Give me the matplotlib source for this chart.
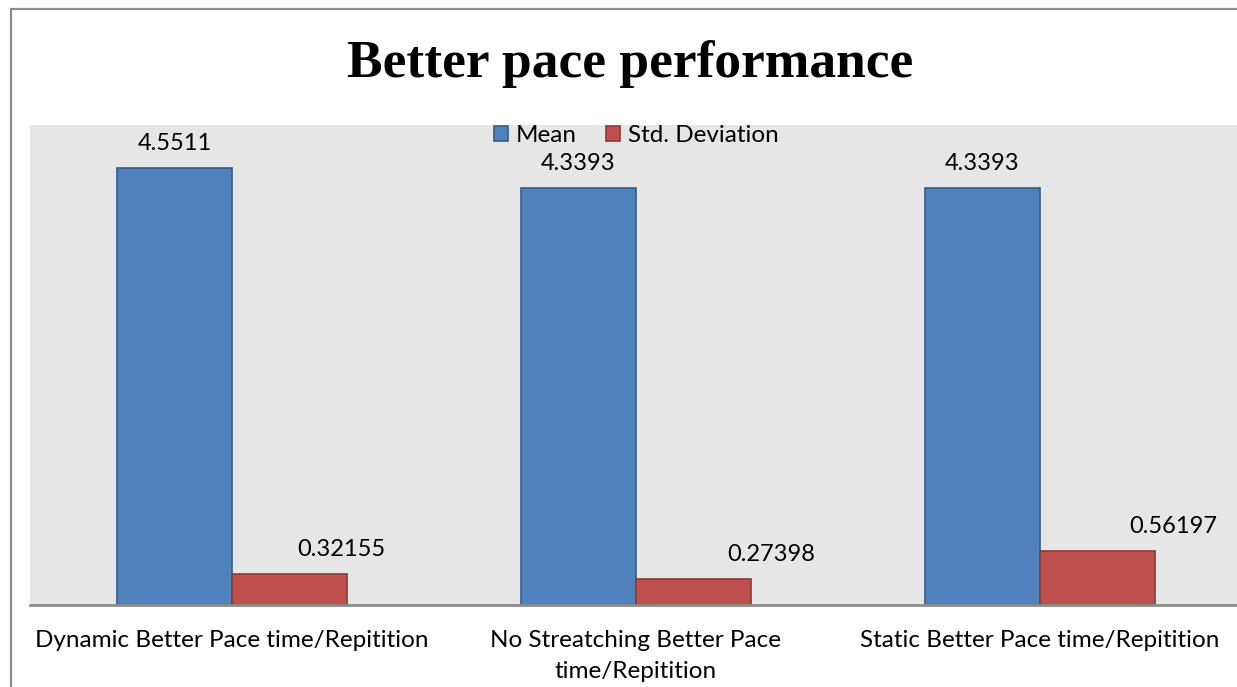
import matplotlib.pyplot as plt
import numpy as np
from matplotlib.patches import Rectangle

categories = [
    "Dynamic Better Pace time/Repitition",
    "No Streatching Better Pace\ntime/Repitition",
    "Static Better Pace time/Repitition",
]
mean_values = [4.5511, 4.3393, 4.3393]
std_values = [0.32155, 0.27398, 0.56197]
series_names = ["Mean", "Std. Deviation"]

# label nudges in pixels (x), as placed in the source chart
std_label_dx = [52, 78, 76]

fig = plt.figure(figsize=(12.37, 6.87), dpi=100)
plt.rcParams["font.family"] = ["Lato", "DejaVu Sans"]

# outer frame of the chart area (cut at right/bottom in the original)
fig.patches.append(Rectangle((11 / 1237, -0.1), 1.2, (687 - 9) / 687 + 0.1,
                             transform=fig.transFigure, fill=False,
                             edgecolor="#8c8c8c", linewidth=1.6))

ax = fig.add_axes([30 / 1237, (687 - 605) / 687, 1212 / 1237, 480 / 687])
ax.set_facecolor("#e6e6e6")

x = np.arange(len(categories))
w = 0.285
b1 = ax.bar(x - w / 2, mean_values, w, color="#4f81bd", edgecolor="#385d8a",
            linewidth=1.2, label=series_names[0])
b2 = ax.bar(x + w / 2, std_values, w, color="#c0504d", edgecolor="#8c3836",
            linewidth=1.2, label=series_names[1])

for rect, v in zip(b1, mean_values):
    ax.annotate(f"{v:g}", (rect.get_x() + rect.get_width() / 2, v),
                xytext=(0, 14), textcoords="offset pixels",
                ha="center", va="bottom", fontsize=17)
for rect, v, dx in zip(b2, std_values, std_label_dx):
    ax.annotate(f"{v:g}", (rect.get_x() + rect.get_width() / 2, v),
                xytext=(dx, 14), textcoords="offset pixels",
                ha="center", va="bottom", fontsize=17)

ax.set_xlim(-0.5, len(categories) - 0.5)
ax.set_ylim(0, 5)
ax.set_yticks([])
ax.set_xticks(x)
ax.set_xticklabels(categories, fontsize=17.5, linespacing=1.6)
ax.tick_params(axis="x", length=0, pad=18)
for side in ["top", "right", "left"]:
    ax.spines[side].set_visible(False)
ax.spines["bottom"].set_color("#8c8c8c")
ax.spines["bottom"].set_linewidth(2)

leg = ax.legend(loc="upper center", bbox_to_anchor=(0.5, 1.02), ncol=2,
                frameon=False, fontsize=17.5, handlelength=0.6, handleheight=0.6,
                handletextpad=0.3, columnspacing=1.2, borderaxespad=0)

fig.text(630 / 1237, 1 - 64 / 687, "Better pace performance",
         family="Liberation Serif", fontweight="bold", fontsize=38.5,
         ha="center", va="center")

fig.savefig("out.png", dpi=100)
